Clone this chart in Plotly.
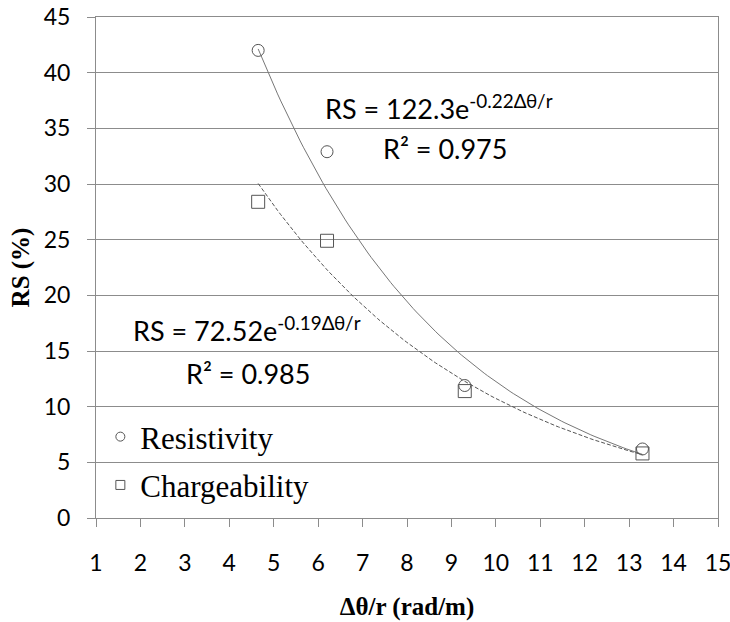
import numpy as np
import plotly.graph_objects as go

# Data
x_res = [4.65, 6.2, 9.3, 13.3]
y_res = [42.0, 32.9, 11.9, 6.2]
x_chg = [4.65, 6.2, 9.3, 13.3]
y_chg = [28.4, 24.9, 11.4, 5.8]

x_ticks = list(range(1, 16))
y_ticks = list(range(0, 50, 5))

eq_res = "RS = 122.3e<sup>-0.22Δθ/r</sup>"
r2_res = "R² = 0.975"
eq_chg = "RS = 72.52e<sup>-0.19Δθ/r</sup>"
r2_chg = "R² = 0.985"


def exp_fit(xs, ys):
    b, lna = np.polyfit(np.array(xs), np.log(np.array(ys)), 1)
    xx = np.linspace(min(xs), max(xs), 120)
    return xx, np.exp(lna) * np.exp(b * xx)


fx_r, fy_r = exp_fit(x_res, y_res)
fx_c, fy_c = exp_fit(x_chg, y_chg)

mk = "#555555"
fig = go.Figure()
fig.add_trace(go.Scatter(x=fx_r, y=fy_r, mode="lines", showlegend=False,
                         line=dict(color="#777777", width=1, dash="solid"), hoverinfo="skip"))
fig.add_trace(go.Scatter(x=fx_c, y=fy_c, mode="lines", showlegend=False,
                         line=dict(color="#555555", width=1, dash="4px,2px"), hoverinfo="skip"))
fig.add_trace(go.Scatter(x=x_res, y=y_res, mode="markers", name="Resistivity", showlegend=False,
                         marker=dict(symbol="circle-open", size=12, color=mk,
                                     line=dict(width=1, color=mk))))
fig.add_trace(go.Scatter(x=x_chg, y=y_chg, mode="markers", name="Chargeability", showlegend=False,
                         marker=dict(symbol="square-open", size=13, color=mk,
                                     line=dict(width=1, color=mk))))
# legend entries (smaller symbols, as in the reference)
fig.add_trace(go.Scatter(x=[None], y=[None], mode="markers", name="Resistivity",
                         legendgroup="a",
                         marker=dict(symbol="circle-open", size=9, color=mk, line=dict(width=1, color=mk))))
fig.add_trace(go.Scatter(x=[None], y=[None], mode="markers", name="Chargeability",
                         legendgroup="b",
                         marker=dict(symbol="square-open", size=9, color=mk, line=dict(width=1, color=mk))))

ann_font = dict(family="Lato, Open Sans, sans-serif", size=27, color="black")
fig.add_annotation(x=8.71, y=36.9, text=eq_res, showarrow=False, font=ann_font, xanchor="center")
fig.add_annotation(x=8.85, y=33.2, text=r2_res, showarrow=False, font=ann_font, xanchor="center")
fig.add_annotation(x=4.40, y=17.0, text=eq_chg, showarrow=False, font=ann_font, xanchor="center")
fig.add_annotation(x=4.43, y=12.95, text=r2_chg, showarrow=False, font=ann_font, xanchor="center")

axis_font = dict(family="Lato, Open Sans, sans-serif", size=23, color="black")
title_font = dict(family="Liberation Serif, Times New Roman, serif", size=25, color="black")

fig.update_layout(
    width=730, height=622,
    margin=dict(l=96, r=12, t=17, b=104),
    plot_bgcolor="white", paper_bgcolor="white",
    showlegend=True,
    legend=dict(x=0.007, y=0.012, xanchor="left", yanchor="bottom",
                bgcolor="rgba(0,0,0,0)", tracegroupgap=5,
                font=dict(family="Liberation Serif, Times New Roman, serif", size=31, color="black")),
    xaxis=dict(range=[1, 15], tickvals=x_ticks, showgrid=False, zeroline=False,
               showline=True, linecolor="#8c8c8c", linewidth=1, mirror=True,
               ticks="outside", ticklen=8, tickcolor="#8c8c8c",
               tickfont=axis_font, automargin=False, ticklabelstandoff=16,
               ticklabeloverflow="allow",
               title=dict(text="<b>Δθ/r (rad/m)</b>", font=title_font, standoff=22)),
    yaxis=dict(range=[0, 45], tickvals=y_ticks, showgrid=True, gridcolor="#8c8c8c",
               gridwidth=1, zeroline=False,
               showline=True, linecolor="#8c8c8c", linewidth=1, mirror=True,
               ticks="outside", ticklen=8, tickcolor="#8c8c8c",
               tickfont=axis_font, automargin=False, ticklabelstandoff=12,
               ticklabeloverflow="allow",
               title=dict(text="<b>RS (%)</b>", font=title_font, standoff=6)),
)

fig.write_html("out.html")
